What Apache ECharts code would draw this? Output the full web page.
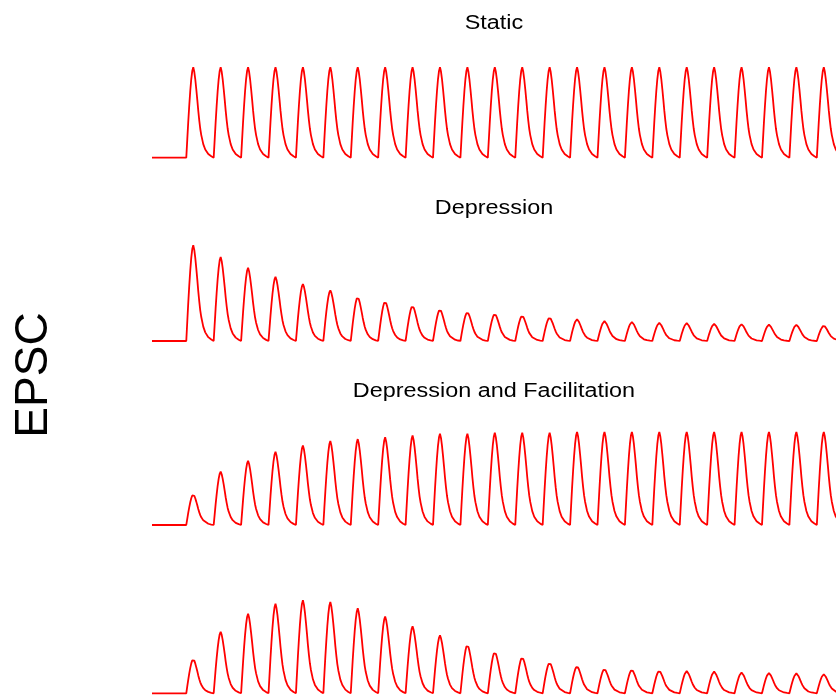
<!DOCTYPE html>
<html>
<head>
<meta charset="utf-8">
<script src="https://cdn.jsdelivr.net/npm/echarts@6/dist/echarts.min.js"></script>
<style>
  html, body { margin: 0; padding: 0; background: #fff; }
  #chart { width: 836px; height: 698px; }
</style>
</head>
<body>
<div id="chart"></div>
<script>
// spike train timing (ms)
const isiMs = 40
const startMs = -50
const axisMaxMs = 948

const kernelT = [0, 1.46, 2.92, 4.38, 5.84, 7.3, 8.76, 10.2, 11.7, 13.1, 14.6, 16.1, 17.5, 19, 20.4, 21.9, 24.8, 27.7, 32.1, 36.5, 40]
const kernelV = [0, 0.2, 0.4, 0.58, 0.74, 0.87, 0.96, 1.0, 0.95, 0.87, 0.76, 0.64, 0.52, 0.41, 0.32, 0.25, 0.15, 0.09, 0.04, 0.015, 0]

// peak amplitude of each EPSC (Static = 1)
const staticAmp = [1, 1, 1, 1, 1, 1, 1, 1, 1, 1, 1, 1, 1, 1, 1, 1, 1, 1, 1, 1, 1, 1, 1, 1]
const depressionAmp = [1.06, 0.93, 0.81, 0.71, 0.63, 0.56, 0.49, 0.44, 0.39, 0.35, 0.32, 0.30, 0.28, 0.26, 0.24, 0.22, 0.21, 0.20, 0.197, 0.19, 0.185, 0.18, 0.178, 0.17]
const depFacAmp = [0.34, 0.59, 0.71, 0.81, 0.88, 0.93, 0.95, 0.97, 0.99, 1.01, 1.01, 1.02, 1.02, 1.02, 1.03, 1.03, 1.03, 1.03, 1.03, 1.03, 1.03, 1.03, 1.03, 1.03]
const facDepAmp = [0.38, 0.68, 0.88, 0.99, 1.03, 1.01, 0.94, 0.85, 0.74, 0.64, 0.54, 0.46, 0.40, 0.34, 0.30, 0.27, 0.26, 0.25, 0.245, 0.24, 0.23, 0.225, 0.22, 0.21]

const panelTitles = ['Static', 'Depression', 'Depression and Facilitation', '']
const panelAmps = [staticAmp, depressionAmp, depFacAmp, facDepAmp]

// build the trace for one panel from the amplitudes
const buildTrace = (amps) => {
  const pts = [[startMs, 0]]
  amps.forEach((a, k) => {
    const last = k === amps.length - 1
    const n = last ? kernelT.length : kernelT.length - 1
    for (let j = 0; j < n; j++) {
      pts.push([k * isiMs + kernelT[j], a * kernelV[j]])
    }
  })
  return pts
}

const gridTops = [49.2, 232.5, 416.5, 584.8]
const gridH = 113
const titleY = [23, 208, 391]

const chart = echarts.init(document.getElementById('chart'), null, { renderer: 'canvas' })

const option = {
  animation: false,
  backgroundColor: '#fff',
  grid: gridTops.map(t => ({ left: 152, right: 0, top: t, height: gridH })),
  xAxis: gridTops.map((_, i) => ({
    type: 'value', gridIndex: i, min: startMs, max: axisMaxMs, show: false
  })),
  yAxis: gridTops.map((_, i) => ({
    type: 'value', gridIndex: i, min: -0.05, max: 1.2, show: false
  })),
  series: panelAmps.map((amps, i) => ({
    type: 'line',
    name: panelTitles[i],
    xAxisIndex: i,
    yAxisIndex: i,
    data: buildTrace(amps),
    showSymbol: false,
    lineStyle: { color: '#ff0000', width: 1.8 },
    clip: true
  })),
  graphic: [
    {
      type: 'text',
      x: 34, y: 375,
      rotation: Math.PI / 2,
      style: {
        text: 'EPSC',
        font: '46px "Liberation Sans", Arial, sans-serif',
        fill: '#000',
        align: 'center',
        verticalAlign: 'middle'
      }
    },
    ...titleY.map((y, i) => ({
      type: 'text',
      x: 494, y: y,
      scaleX: 1.17,
      style: {
        text: panelTitles[i],
        font: '20px "Liberation Sans", Arial, sans-serif',
        fill: '#000',
        align: 'center',
        verticalAlign: 'middle'
      }
    }))
  ]
}

chart.setOption(option)
</script>
</body>
</html>
